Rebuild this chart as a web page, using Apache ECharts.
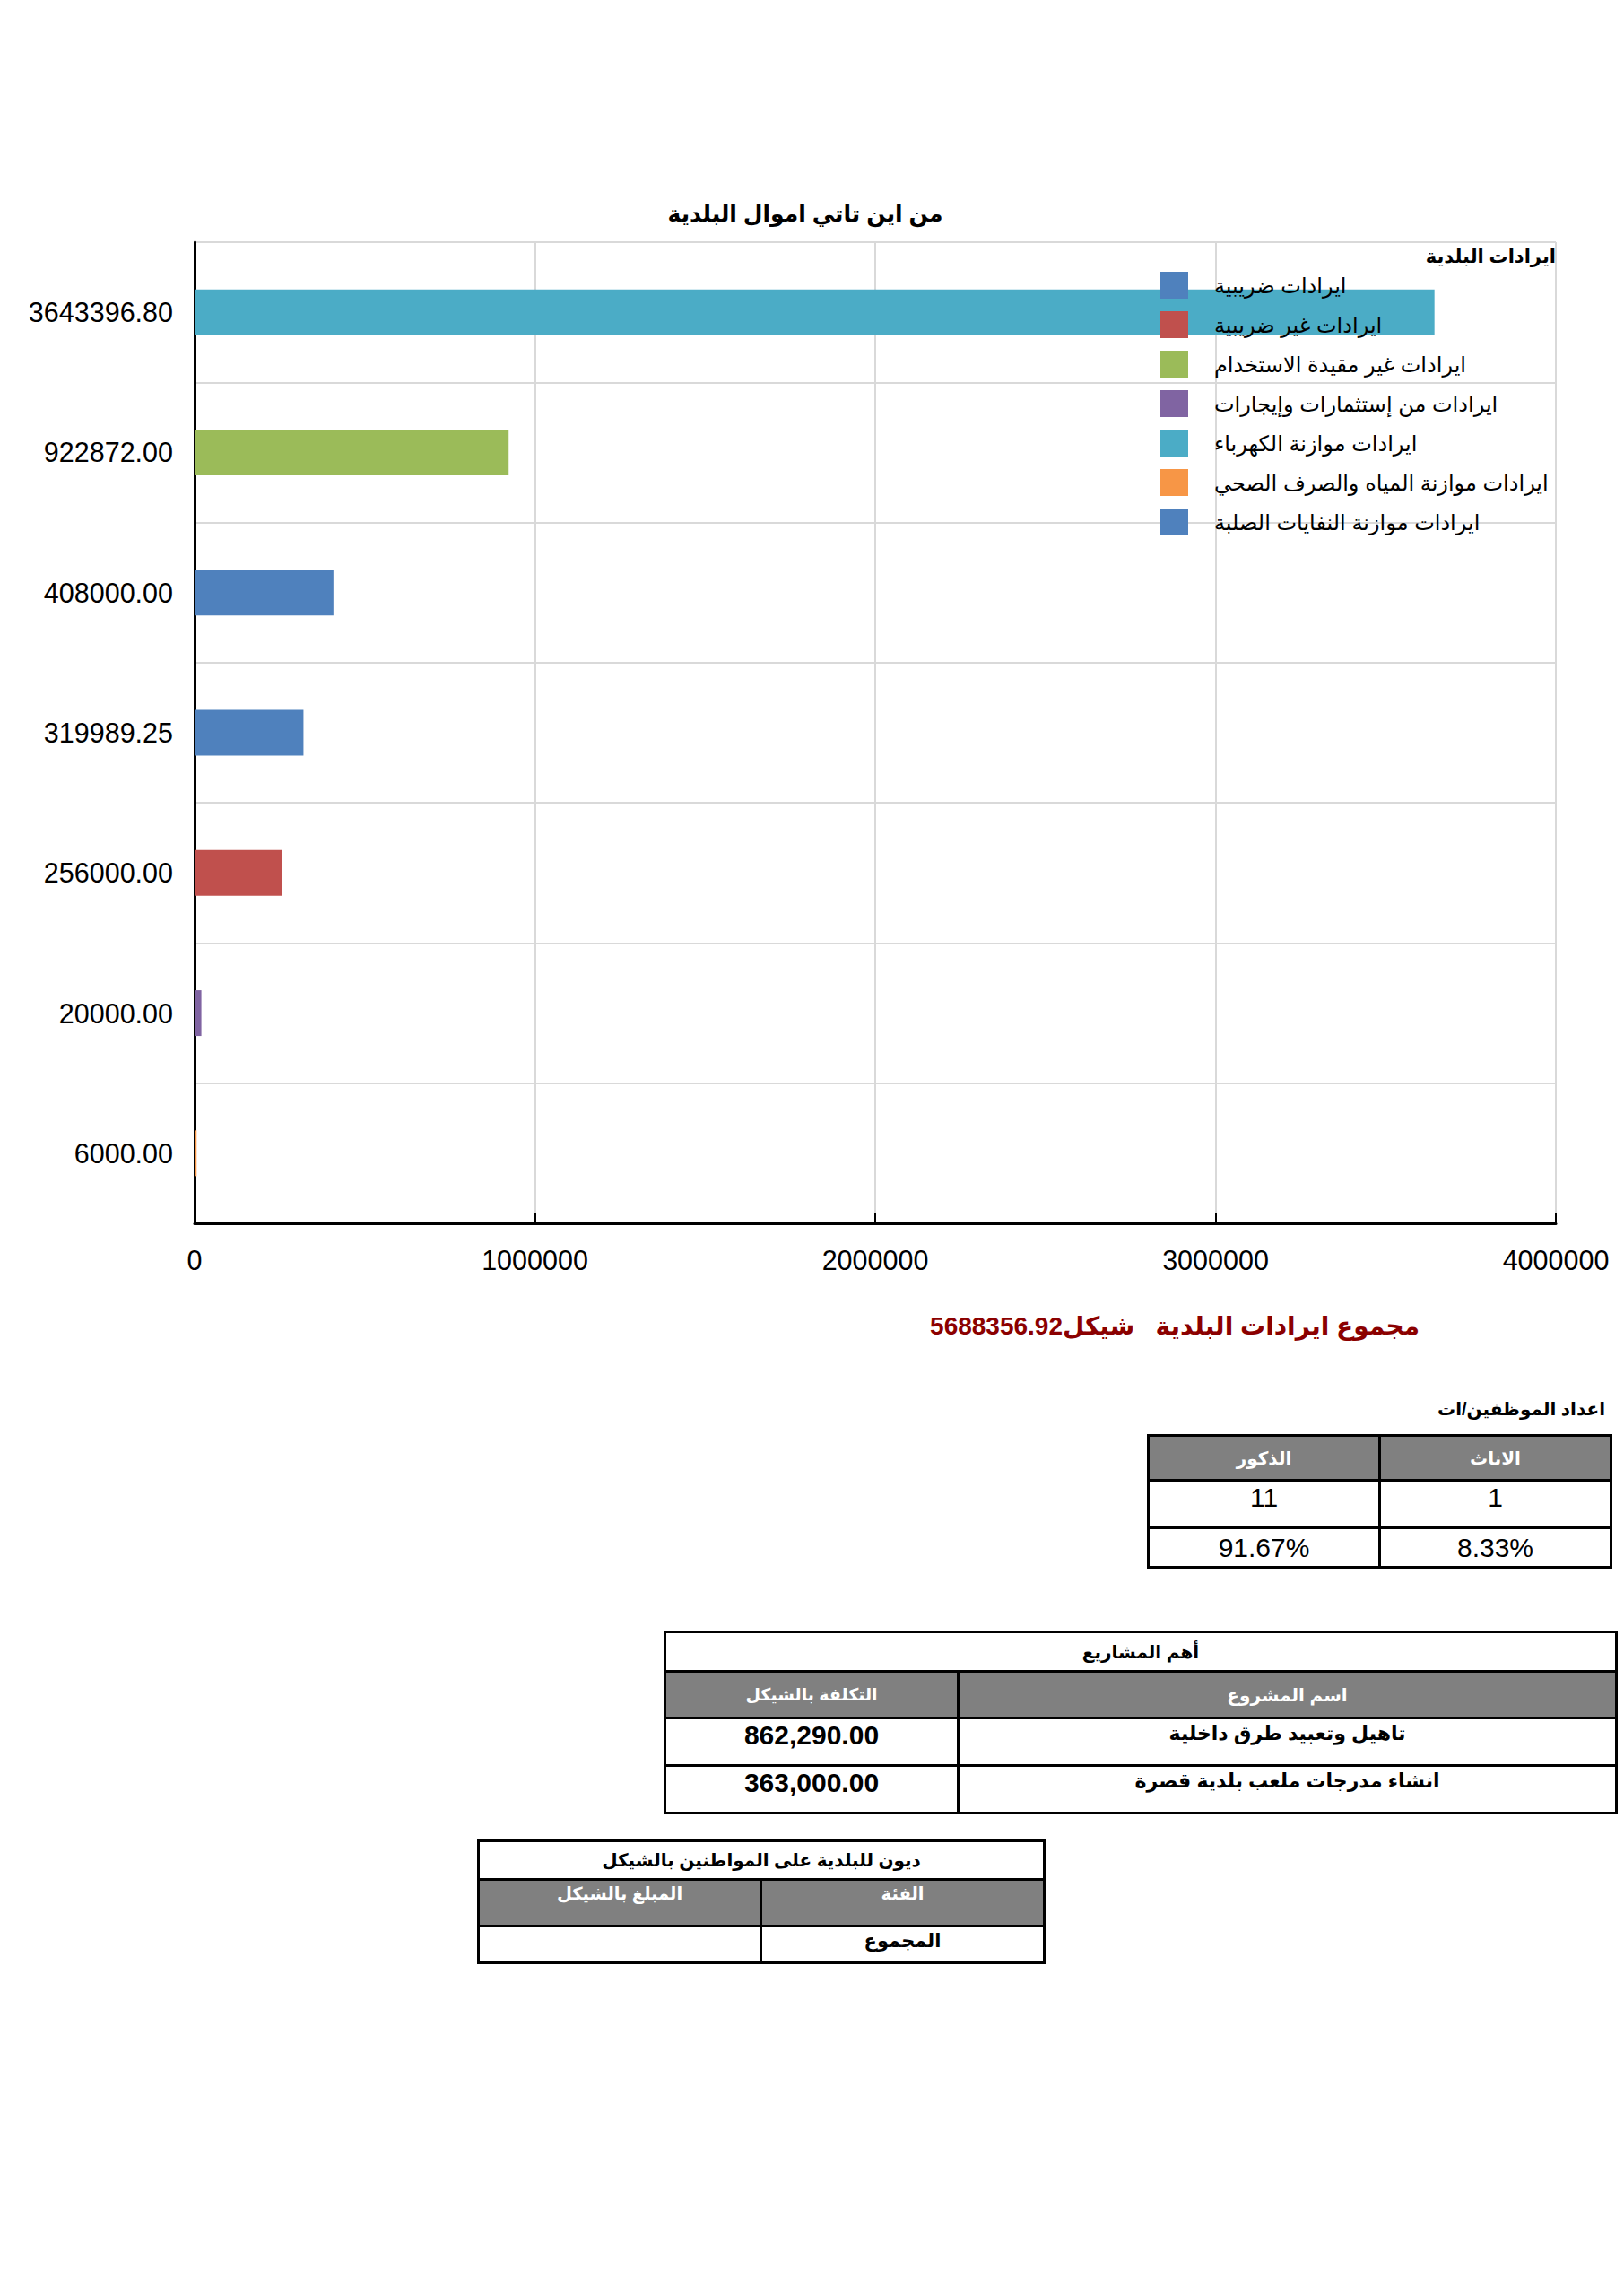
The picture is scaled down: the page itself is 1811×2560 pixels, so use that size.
<!DOCTYPE html>
<html>
<head>
<meta charset="utf-8">
<script src="https://cdn.jsdelivr.net/npm/echarts@6/dist/echarts.min.js"></script>
<style>
  html, body { margin: 0; padding: 0; background: #fff; }
  body { width: 1811px; height: 2560px; position: relative; overflow: hidden;
         font-family: 'Liberation Sans', Arial, 'DejaVu Sans', sans-serif; }
  #chart { position: absolute; left: 0; top: 0; width: 1811px; height: 2560px; }
  .abs { position: absolute; }
  table.t { position: absolute; border-collapse: collapse; table-layout: fixed; direction: rtl; }
  table.t td { border: 3px solid #000; padding: 0; text-align: center; color: #000; overflow: hidden; white-space: nowrap; }
  table.t td.h { background: #808080; color: #fff; font-weight: bold; }
</style>
</head>
<body>
<div id="chart"></div>

<div class="abs" id="total" dir="rtl" style="right:228px; top:1462px; font-size:28px; font-weight:bold; color:#8B0000; white-space:pre;"></div>

<div class="abs" dir="rtl" style="right:21px; top:1559px; font-size:20px; font-weight:bold; white-space:nowrap;">اعداد الموظفين/ات</div>
<table class="t" id="tEmp" style="left:1279px; top:1599px; width:516px;"></table>

<table class="t" id="tProj" style="left:740px; top:1818px; width:1061px;"></table>

<table class="t" id="tDebt" style="left:532px; top:2051px; width:631px;"></table>

<script>
// ---------- data ----------
const chartTitle = 'من اين تاتي اموال البلدية';
const legendTitle = 'ايرادات البلدية';
const seriesNames = [
  'ايرادات ضريبية',
  'ايرادات غير ضريبية',
  'ايرادات غير مقيدة الاستخدام',
  'ايرادات من إستثمارات وإيجارات',
  'ايرادات موازنة الكهرباء',
  'ايرادات موازنة المياه والصرف الصحي',
  'ايرادات موازنة النفايات الصلبة'
];
const seriesColors = ['#4F81BD', '#C0504D', '#9BBB59', '#8064A2', '#4BACC6', '#F79646', '#4F81BD'];
const categories = ['3643396.80', '922872.00', '408000.00', '319989.25', '256000.00', '20000.00', '6000.00'];
const values = [3643396.80, 922872.00, 408000.00, 319989.25, 256000.00, 20000.00, 6000.00];
// which series each category bar belongs to
const categorySeries = [4, 2, 0, 6, 1, 3, 5];
const xTicks = [0, 1000000, 2000000, 3000000, 4000000];

const totalLabel = 'مجموع ايرادات البلدية   شيكل';
const totalValue = '5688356.92';

const empHeaders = ['الاناث', 'الذكور'];
const empCounts = ['1', '11'];
const empPercents = ['8.33%', '91.67%'];

const projTitle = 'أهم المشاريع';
const projHeaders = ['اسم المشروع', 'التكلفة بالشيكل'];
const projNames = ['تاهيل وتعبيد طرق داخلية', 'انشاء مدرجات ملعب بلدية قصرة'];
const projCosts = ['862,290.00', '363,000.00'];

const debtTitle = 'ديون للبلدية على المواطنين بالشيكل';
const debtHeaders = ['الفئة', 'المبلغ بالشيكل'];
const debtRows = [['المجموع', '']];

// ---------- chart ----------
const FONT = "'Liberation Sans', Arial, 'DejaVu Sans', sans-serif";
const chart = echarts.init(document.getElementById('chart'), null, { renderer: 'svg' });

const series = seriesNames.map((name, si) => ({
  name: name,
  type: 'bar',
  stack: 'all',
  barWidth: 51,
  itemStyle: { color: seriesColors[si] },
  data: values.map((v, ci) => (categorySeries[ci] === si ? v : null))
}));

chart.setOption({
  animation: false,
  textStyle: { fontFamily: FONT },
  graphic: [
    { type: 'text', x: 898, y: 238, z: 100,
      style: { text: chartTitle, font: 'bold 25px ' + FONT, fill: '#000', textAlign: 'center', textVerticalAlign: 'middle' } },
    { type: 'text', x: 1735, y: 285, z: 100,
      style: { text: legendTitle, font: 'bold 21px ' + FONT, fill: '#000', textAlign: 'right', textVerticalAlign: 'middle' } }
  ],
  legend: {
    orient: 'vertical',
    left: 1289,
    top: 298,
    itemWidth: 31,
    itemHeight: 30,
    itemGap: 14,
    icon: 'rect',
    selectedMode: false,
    textStyle: { fontSize: 24, color: '#000', fontFamily: FONT, lineHeight: 30, padding: [0, 0, 0, 24] },
    data: seriesNames
  },
  grid: { left: 217, right: 76, top: 270, bottom: 1196, containLabel: false },
  xAxis: {
    type: 'value',
    min: xTicks[0],
    max: xTicks[xTicks.length - 1],
    interval: xTicks[1] - xTicks[0],
    axisLine: { show: true, lineStyle: { color: '#000', width: 3 } },
    axisTick: { show: true, inside: true, length: 11, lineStyle: { color: '#000', width: 2 } },
    axisLabel: { fontSize: 30.5, color: '#000', margin: 25, fontFamily: FONT, formatter: v => String(v) },
    splitLine: { show: true, lineStyle: { color: '#d9d9d9', width: 2 } }
  },
  yAxis: {
    type: 'category',
    inverse: true,
    data: categories,
    axisLine: { show: true, lineStyle: { color: '#000', width: 3 } },
    axisTick: { show: false },
    axisLabel: { fontSize: 30.5, color: '#000', margin: 24, fontFamily: FONT },
    splitLine: { show: true, lineStyle: { color: '#d9d9d9', width: 2 } }
  },
  series: series
});

// ---------- html parts ----------
document.getElementById('total').textContent = totalLabel + totalValue;

function td(text, h, extra, span) {
  return '<td' + (span ? ' colspan="' + span + '"' : '') + (h ? ' class="h"' : '') + ' style="' + (extra || '') + '">' + text + '</td>';
}
// employees table
(function () {
  const t = document.getElementById('tEmp');
  let html = '<colgroup><col style="width:258px"><col style="width:258px"></colgroup>';
  html += '<tr style="height:50px">' + empHeaders.map(h => td(h, true, 'font-size:20px;')).join('') + '</tr>';
  html += '<tr style="height:53px">' + empCounts.map(v => td(v, false, 'font-size:30px;vertical-align:top;padding-top:1px;')).join('') + '</tr>';
  html += '<tr style="height:44px">' + empPercents.map(v => td(v, false, 'font-size:30px;')).join('') + '</tr>';
  t.innerHTML = html;
})();
// projects table
(function () {
  const t = document.getElementById('tProj');
  let html = '<colgroup><col style="width:734px"><col style="width:327px"></colgroup>';
  html += '<tr style="height:44px">' + td(projTitle, false, 'font-size:20px;font-weight:bold;', 2) + '</tr>';
  html += '<tr style="height:52px">' + projHeaders.map((h, i) => td(h, true, 'font-size:' + (i ? 19 : 20) + 'px;')).join('') + '</tr>';
  projNames.forEach((n, i) => {
    html += '<tr style="height:53px">' + td(n, false, 'font-size:22px;font-weight:bold;vertical-align:top;padding-top:3px;') +
            td(projCosts[i], false, 'font-size:30px;font-weight:bold;vertical-align:top;padding-top:1px;') + '</tr>';
  });
  t.innerHTML = html;
})();
// debt table
(function () {
  const t = document.getElementById('tDebt');
  let html = '<colgroup><col style="width:316px"><col style="width:315px"></colgroup>';
  html += '<tr style="height:43px">' + td(debtTitle, false, 'font-size:20px;font-weight:bold;', 2) + '</tr>';
  html += '<tr style="height:52px">' + debtHeaders.map(h => td(h, true, 'font-size:19.5px;vertical-align:top;padding-top:3px;')).join('') + '</tr>';
  debtRows.forEach(r => {
    html += '<tr style="height:41px">' + r.map(v => td(v, false, 'font-size:21px;font-weight:bold;vertical-align:top;padding-top:3px;')).join('') + '</tr>';
  });
  t.innerHTML = html;
})();
</script>
</body>
</html>
